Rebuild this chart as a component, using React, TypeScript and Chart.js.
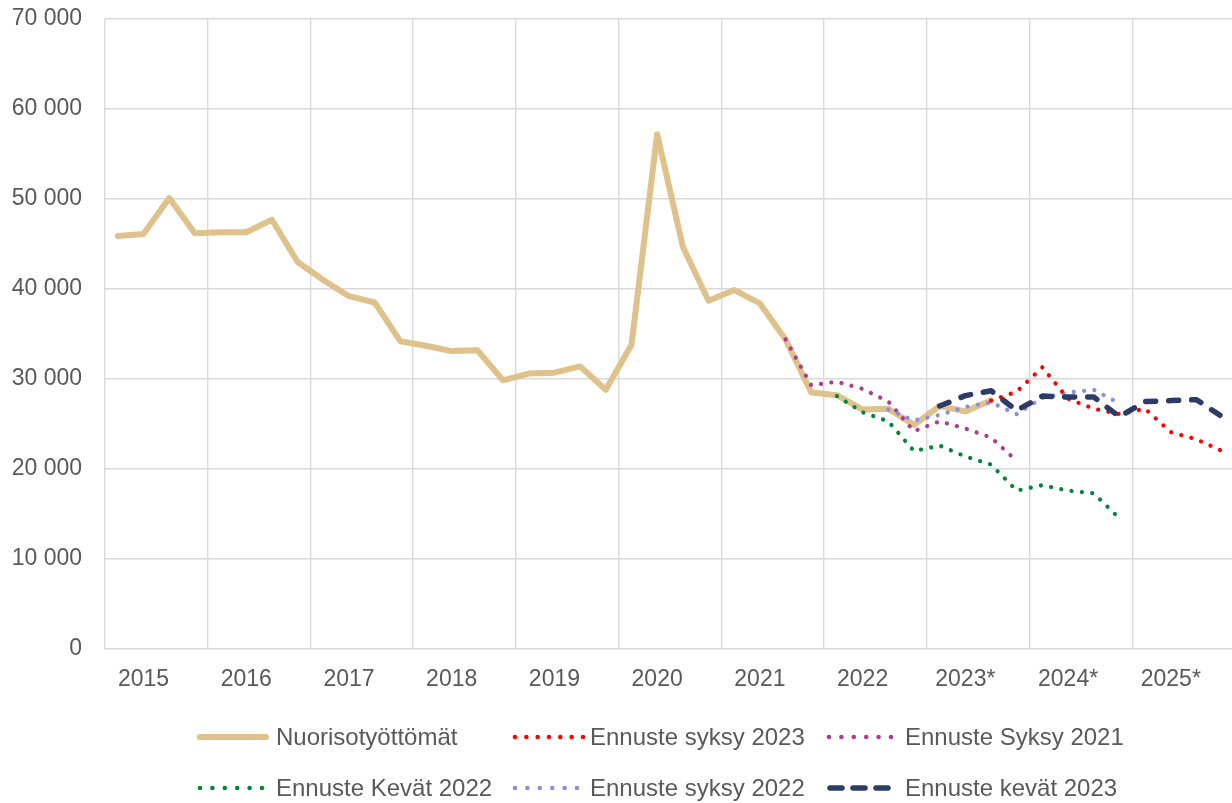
import React, { useEffect, useRef } from "react";
import { Chart, registerables } from "chart.js";

Chart.register(...registerables);

// ---- Data ----
const yearLabels = ["2015", "2016", "2017", "2018", "2019", "2020", "2021", "2022", "2023*", "2024*", "2025*"];
const quartersTotal = 44;
const yTicks = [0, 10000, 20000, 30000, 40000, 50000, 60000, 70000];

// quarterly values, index 0 = 2015 Q1
const nuorisoStart = 0;
const nuorisotyottomat = [
  45900, 46100, 50100, 46200, 46300, 46300, 47700, 43000, 41000, 39200, 38500, 34200,
  33700, 33100, 33200, 29850, 30600, 30700, 31400, 28800, 33800, 57200, 44700, 38700,
  39900, 38400, 34400, 28500, 28200, 26600, 26700, 24900, 27000, 26400, 27600,
];

const syksy2023Start = 34;
const ennusteSyksy2023 = [27600, 28600, 31300, 27800, 26700, 26100, 26700, 24100, 23300, 22000];

const syksy2021Start = 26;
const ennusteSyksy2021 = [34400, 29300, 29700, 28900, 27500, 24200, 25300, 24500, 23500, 20900];

const kevat2022Start = 28;
const ennusteKevat2022 = [28100, 26300, 25300, 22000, 22600, 21400, 20500, 17600, 18200, 17600, 17300, 14500];

const syksy2022Start = 30;
const ennusteSyksy2022 = [26600, 25400, 26000, 26900, 27400, 26100, 27900, 28500, 28800, 27300];

const kevat2023Start = 32;
const ennusteKevat2023 = [27000, 28150, 28700, 26500, 28100, 28000, 28000, 25800, 27500, 27600, 27700, 25800];

const FONT = '"Liberation Sans", Arial, sans-serif';
const TEXT = "#595959";
const GRID = "#D9D9D9";

type LegendKind = "solid" | "dot" | "dash";
interface SeriesDef {
  label: string;
  start: number;
  values: number[];
  color: string;
  width: number;
  dash: number[];
  kind: LegendKind;
  order: number;
  dots?: number;
}

const series: SeriesDef[] = [
  { label: "Nuorisotyöttömät", start: nuorisoStart, values: nuorisotyottomat, color: "#DFC18B", width: 6, dash: [], kind: "solid", order: 10 },
  { label: "Ennuste syksy 2023", start: syksy2023Start, values: ennusteSyksy2023, color: "#FF0000", width: 4.2, dash: [0.1, 10.3], kind: "dot", order: 1, dots: 7 },
  { label: "Ennuste Syksy 2021", start: syksy2021Start, values: ennusteSyksy2021, color: "#B03A8E", width: 4.2, dash: [0.1, 10.3], kind: "dot", order: 4, dots: 6 },
  { label: "Ennuste Kevät 2022", start: kevat2022Start, values: ennusteKevat2022, color: "#00873C", width: 4.2, dash: [0.1, 10.3], kind: "dot", order: 3, dots: 6 },
  { label: "Ennuste syksy 2022", start: syksy2022Start, values: ennusteSyksy2022, color: "#8F8CDA", width: 4.2, dash: [0.1, 10.3], kind: "dot", order: 2, dots: 6 },
  { label: "Ennuste kevät 2023", start: kevat2023Start, values: ennusteKevat2023, color: "#2B3C69", width: 5.5, dash: [10, 13], kind: "dash", order: 0 },
];

const toPoints = (start: number, values: number[]) =>
  values.map((v, i) => ({ x: start + i + 0.5, y: v }));

const legendPlugin = {
  id: "customLegend",
  afterDraw(chart: any) {
    const ctx = chart.ctx as CanvasRenderingContext2D;
    const cols = [198, 513, 827];
    const textX = [276, 590, 905];
    const rows = [737, 788];
    const sampleLen = 68;
    ctx.save();
    series.forEach((s, idx) => {
      const r = Math.floor(idx / 3);
      const c = idx % 3;
      const x0 = cols[c];
      const y = rows[r];
      ctx.strokeStyle = s.color;
      ctx.fillStyle = s.color;
      ctx.lineCap = "round";
      if (s.kind === "solid") {
        ctx.lineWidth = 6;
        ctx.beginPath();
        ctx.moveTo(x0 + 2, y);
        ctx.lineTo(x0 + sampleLen, y);
        ctx.stroke();
      } else if (s.kind === "dot") {
        const n = s.dots || 6;
        const span = n === 7 ? 68 : 62;
        for (let k = 0; k < n; k++) {
          ctx.beginPath();
          ctx.arc(x0 + 2 + (span * k) / (n - 1), y, 2.3, 0, Math.PI * 2);
          ctx.fill();
        }
      } else {
        ctx.lineWidth = 5.5;
        for (let k = 0; k < 3; k++) {
          const sx = x0 + 3 + k * 23;
          ctx.beginPath();
          ctx.moveTo(sx, y);
          ctx.lineTo(sx + 12, y);
          ctx.stroke();
        }
      }
      ctx.fillStyle = TEXT;
      ctx.font = `24px ${FONT}`;
      ctx.textBaseline = "middle";
      ctx.textAlign = "left";
      ctx.fillText(s.label, textX[c], y + 1);
    });
    ctx.restore();
  },
};

export default function App() {
  const canvasRef = useRef<HTMLCanvasElement | null>(null);

  useEffect(() => {
    if (!canvasRef.current) return;
    const chart = new Chart(canvasRef.current, {
      type: "line",
      data: {
        datasets: series.map((s) => ({
          label: s.label,
          data: toPoints(s.start, s.values),
          borderColor: s.color,
          backgroundColor: s.color,
          borderWidth: s.width,
          borderDash: s.dash,
          borderCapStyle: "round",
          borderJoinStyle: "round",
          pointRadius: 0,
          pointHoverRadius: 0,
          tension: 0,
          fill: false,
          order: s.order,
        })),
      },
      options: {
        animation: false,
        responsive: false,
        maintainAspectRatio: false,
        layout: { padding: { top: 19, right: 5, left: 0, bottom: 0 } },
        plugins: {
          legend: { display: false },
          tooltip: { enabled: false },
        },
        scales: {
          x: {
            type: "linear",
            min: 0,
            max: quartersTotal,
            afterBuildTicks: (scale: any) => {
              const t = [];
              for (let y = 0; y < yearLabels.length; y++) {
                t.push({ value: y * 4 });
                t.push({ value: y * 4 + 1.5 });
              }
              t.push({ value: quartersTotal });
              scale.ticks = t;
            },
            afterFit: (scale: any) => {
              scale.height = 154;
              scale.paddingLeft = 0;
              scale.paddingRight = 0;
            },
            grid: {
              color: (c: any) => (c.tick && c.tick.value % 4 === 0 ? GRID : "rgba(0,0,0,0)"),
              lineWidth: 1.4,
              drawTicks: false,
            },
            border: { display: false },
            ticks: {
              autoSkip: false,
              maxRotation: 0,
              minRotation: 0,
              padding: 17,
              color: TEXT,
              font: { family: FONT, size: 23 },
              callback: (v: any) => (v % 4 === 1.5 ? yearLabels[(v - 1.5) / 4] : ""),
            },
          },
          y: {
            min: 0,
            max: 70000,
            afterBuildTicks: (scale: any) => {
              scale.ticks = yTicks.map((v) => ({ value: v }));
            },
            afterFit: (scale: any) => {
              scale.width = 105;
              scale.paddingTop = 0;
              scale.paddingBottom = 0;
            },
            grid: { color: GRID, lineWidth: 1.4, drawTicks: false },
            border: { display: false },
            ticks: {
              padding: 23,
              color: TEXT,
              font: { family: FONT, size: 23 },
              callback: (v: any) => (v === 0 ? "0" : `${v / 1000} 000`),
            },
          },
        },
      },
      plugins: [legendPlugin],
    } as any);
    return () => chart.destroy();
  }, []);

  return (
    <div style={{ position: "fixed", left: 0, top: 0, width: 1232, height: 803, overflow: "hidden", background: "#fff" }}>
      <canvas ref={canvasRef} width={1240} height={803} style={{ width: 1240, height: 803, display: "block" }} />
    </div>
  );
}
